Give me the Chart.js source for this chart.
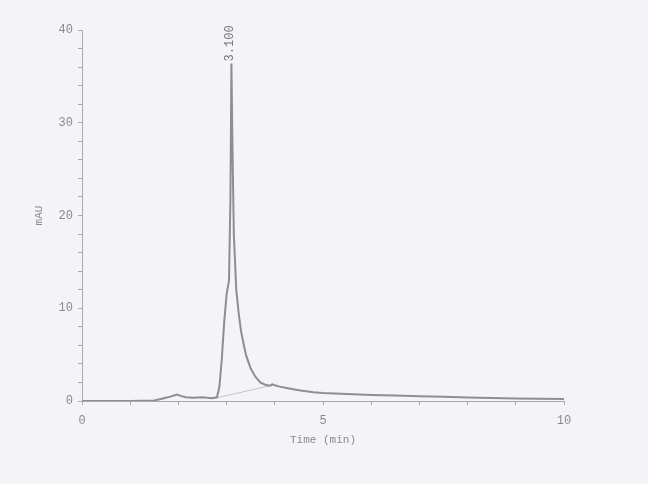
<!DOCTYPE html>
<html>
<head>
<meta charset="utf-8">
<script src="https://cdn.jsdelivr.net/npm/chart.js@4/dist/chart.umd.min.js"></script>
<style>
  html, body { margin: 0; padding: 0; background: #f4f3f8; }
  #wrap { width: 648px; height: 484px; }
</style>
</head>
<body>
<div id="wrap"><canvas id="chromChart" width="648" height="484"></canvas></div>
<script>
// retention times (min) and detector signal (mAU)
var times = [0, 0.5, 1.0, 1.5, 1.7, 1.85, 1.97, 2.05, 2.15, 2.3, 2.5, 2.7, 2.8, 2.85, 2.9, 2.95, 3.0, 3.05, 3.08, 3.1,
             3.12, 3.15, 3.2, 3.25, 3.3, 3.4, 3.5, 3.6, 3.7, 3.8, 3.9, 3.95, 4.0, 4.1, 4.3, 4.5, 4.8, 5.0, 5.5, 6.0,
             6.5, 7.0, 7.5, 8.0, 8.5, 9.0, 9.5, 10.0];
var signal = [0.0, 0.0, 0.0, 0.05, 0.3, 0.5, 0.7, 0.55, 0.4, 0.35, 0.4, 0.3, 0.4, 1.5, 4.5, 8.5, 11.5, 13.0, 22.0, 36.4,
              28.0, 18.0, 12.0, 9.5, 7.5, 5.0, 3.5, 2.6, 2.0, 1.75, 1.65, 1.8, 1.7, 1.55, 1.35, 1.15, 0.95, 0.85, 0.75, 0.65,
              0.58, 0.5, 0.45, 0.38, 0.33, 0.28, 0.25, 0.22];
// integration baseline under the main peak
var baseTimes = [2.8, 3.95];
var baseSignal = [0.35, 1.7];
var peakLabel = '3.100';
var xTickLabels = [0, 5, 10];
var yTickLabels = [0, 10, 20, 30, 40];

var monoFont = "'Liberation Mono', 'DejaVu Sans Mono', monospace";
var grey = '#8e8e8e';

function toPoints(xs, ys) {
    return xs.map(function (x, i) { return { x: x, y: ys[i] }; });
}

// paper background + peak annotation
var paperPlugin = {
    id: 'paper',
    beforeDraw: function (chart) {
        var c = chart.ctx;
        c.save();
        c.fillStyle = '#f4f3f8';
        c.fillRect(0, 0, chart.width, chart.height);
        c.restore();
    },
    afterDatasetsDraw: function (chart) {
        var c = chart.ctx;
        var i = signal.indexOf(Math.max.apply(null, signal));
        var px = chart.scales.x.getPixelForValue(times[i]);
        var py = chart.scales.y.getPixelForValue(signal[i]);
        c.save();
        c.translate(px - 2, py - 2);
        c.rotate(-Math.PI / 2);
        c.font = '12px ' + monoFont;
        c.fillStyle = '#777';
        c.textAlign = 'left';
        c.textBaseline = 'middle';
        c.fillText(peakLabel, 0, 0);
        c.restore();
    }
};

var ctx = document.getElementById('chromChart').getContext('2d');
var chromChart = new Chart(ctx, {
    type: 'line',
    data: {
        datasets: [{
            data: toPoints(times, signal),
            borderColor: grey,
            borderWidth: 2,
            pointRadius: 0,
            tension: 0
        }, {
            data: toPoints(baseTimes, baseSignal),
            borderColor: '#c4c4c8',
            borderWidth: 1,
            pointRadius: 0,
            tension: 0
        }]
    },
    plugins: [paperPlugin],
    options: {
        responsive: false,
        animation: false,
        layout: { padding: { left: 32, right: 84, top: 30, bottom: 37 } },
        plugins: { legend: { display: false }, tooltip: { enabled: false } },
        scales: {
            x: {
                type: 'linear',
                min: 0, max: 10,
                afterFit: function (s) { s.height = 46; },
                ticks: {
                    stepSize: 1,
                    autoSkip: false,
                    maxRotation: 0,
                    color: '#8a8a8a',
                    font: { family: monoFont, size: 12 },
                    padding: 9,
                    callback: function (v) { return xTickLabels.indexOf(v) >= 0 ? String(v) : ''; }
                },
                grid: { drawOnChartArea: false, tickLength: 4, color: '#aaa' },
                border: { color: '#aaa', width: 1 },
                title: {
                    display: true,
                    text: 'Time (min)',
                    color: '#8a8a8a',
                    font: { family: monoFont, size: 11 },
                    padding: { top: 6, bottom: 0 }
                }
            },
            y: {
                min: 0, max: 40,
                afterFit: function (s) { s.width = 50; },
                ticks: {
                    stepSize: 2,
                    autoSkip: false,
                    color: '#8a8a8a',
                    font: { family: monoFont, size: 12 },
                    padding: 5,
                    callback: function (v) { return yTickLabels.indexOf(v) >= 0 ? String(v) : ''; }
                },
                grid: { drawOnChartArea: false, tickLength: 4, color: '#aaa' },
                border: { color: '#aaa', width: 1 },
                title: {
                    display: true,
                    text: 'mAU',
                    color: '#8a8a8a',
                    font: { family: monoFont, size: 11 },
                    padding: 0
                }
            }
        }
    }
});
</script>
</body>
</html>
